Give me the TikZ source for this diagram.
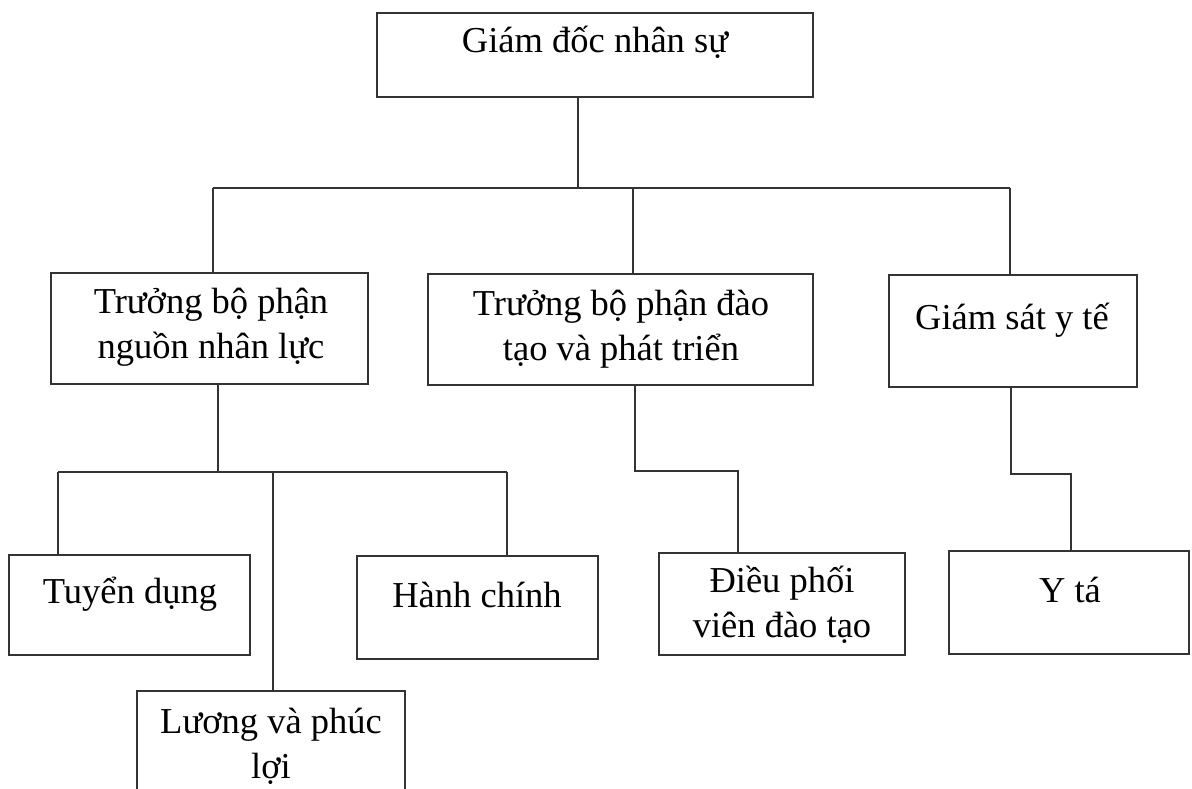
\documentclass[tikz,border=0pt]{standalone}
\usepackage{fontspec}
\setmainfont{Liberation Serif}
\newcommand\twoline[2]{\begin{tabular}[t]{@{}c@{}}#1\\#2\end{tabular}}
\begin{document}
\begin{tikzpicture}[x=1pt,y=1pt,
  box/.style={draw=black!80, line width=2.6pt, inner sep=0pt, outer sep=0pt, fill=white},
  lbl/.style={anchor=base, inner sep=0pt, font=\fontsize{36.5}{45}\selectfont},
  link/.style={draw=black!80, line width=2.4pt}]
\useasboundingbox (0,0) rectangle (1192,-789);
\clip (0,0) rectangle (1192,-789);
\fill[white] (0,0) rectangle (1192,-789);
% boxes
\node[box, minimum width=436pt, minimum height=84pt] (top) at (595,-55) {};
\node[box, minimum width=317pt, minimum height=111pt] (hr) at (209.5,-328.5) {};
\node[box, minimum width=385pt, minimum height=111pt] (td) at (620.5,-329.5) {};
\node[box, minimum width=248pt, minimum height=112pt] (yt) at (1013,-331) {};
\node[box, minimum width=241pt, minimum height=100pt] (tdung) at (129.5,-605) {};
\node[box, minimum width=268pt, minimum height=119pt] (luong) at (271,-750.5) {};
\node[box, minimum width=241pt, minimum height=103pt] (hanh) at (477.5,-607.5) {};
\node[box, minimum width=246pt, minimum height=102pt] (dieu) at (782,-604) {};
\node[box, minimum width=240pt, minimum height=103pt] (yta) at (1069,-602.5) {};
% texts
\node[lbl] (topT) at (595,-53) {Giám đốc nhân sự};
\node[lbl] (hrT) at (211,-313) {\twoline{Trưởng bộ phận}{nguồn nhân lực}};
\node[lbl] (tdT) at (621,-315) {\twoline{Trưởng bộ phận đào}{tạo và phát triển}};
\node[lbl] (ytT) at (1012,-329) {Giám sát y tế};
\node[lbl] (tdungT) at (130,-603) {Tuyển dụng};
\node[lbl] (hanhT) at (477,-607) {Hành chính};
\node[lbl] (dieuT) at (782,-592) {\twoline{Điều phối}{viên đào tạo}};
\node[lbl] (ytaT) at (1070,-602) {Y tá};
\node[lbl] (luongT) at (271,-733) {\twoline{Lương và phúc}{lợi}};
% bus coordinates
\coordinate (b0) at (578,-188);
\coordinate (bL) at (213,-188);
\coordinate (bM) at (633,-188);
\coordinate (bR) at (1010,-188);
\coordinate (c0) at (218,-472);
\coordinate (cL) at (58,-472);
\coordinate (cM) at (273,-472);
\coordinate (cR) at (507,-472);
\coordinate (d0) at (635,-471);
\coordinate (d1) at (738,-471);
\coordinate (e0) at (1011,-474);
\coordinate (e1) at (1071,-474);
% connectors level 1
\draw[link] (top.south -| b0) -- (b0);
\draw[link] (bL) -- (bR);
\draw[link] (bL) -- (bL |- hr.north);
\draw[link] (bM) -- (bM |- td.north);
\draw[link] (bR) -- (bR |- yt.north);
% left subtree
\draw[link] (hr.south -| c0) -- (c0);
\draw[link] (cL) -- (cR);
\draw[link] (cL) -- (cL |- tdung.north);
\draw[link] (cM) -- (cM |- luong.north);
\draw[link] (cR) -- (cR |- hanh.north);
% middle subtree
\draw[link] (td.south -| d0) -- (d0) -- (d1) -- (d1 |- dieu.north);
% right subtree
\draw[link] (yt.south -| e0) -- (e0) -- (e1) -- (e1 |- yta.north);
\end{tikzpicture}
\end{document}
